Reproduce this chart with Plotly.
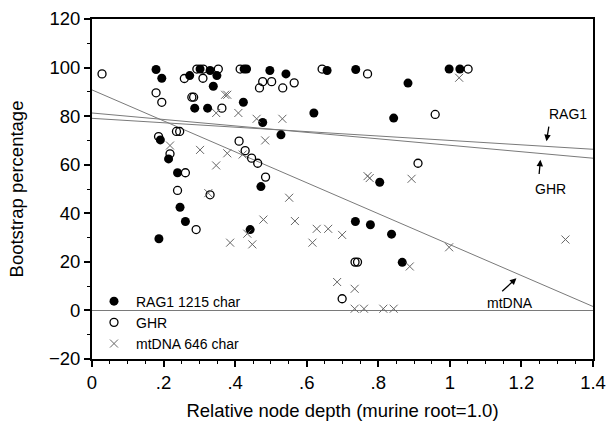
import plotly.graph_objects as go

# ---- data ----
rag1_x = [0.179, 0.195, 0.191, 0.214, 0.239, 0.273, 0.302, 0.330, 0.349, 0.339,
          0.287, 0.323, 0.423, 0.425, 0.432, 0.497, 0.542, 0.477, 0.528, 0.472,
          0.246, 0.261, 0.187, 0.442, 0.657, 0.737, 0.883, 0.998, 1.028, 0.620,
          0.843, 0.804, 0.736, 0.778, 0.837, 0.867]
rag1_y = [99.2, 95.6, 70.2, 62.4, 56.7, 96.7, 99.4, 98.8, 96.7, 92.3,
          83.3, 83.3, 85.7, 99.4, 99.4, 98.8, 97.4, 77.4, 72.3, 51.0,
          42.5, 36.6, 29.5, 33.3, 98.8, 99.2, 93.6, 99.4, 99.4, 81.3,
          79.2, 52.8, 36.6, 35.3, 31.4, 19.8]

ghr_x = [0.028, 0.179, 0.195, 0.186, 0.236, 0.245, 0.218, 0.261, 0.239, 0.258,
         0.293, 0.311, 0.353, 0.310, 0.279, 0.284, 0.363, 0.414, 0.477, 0.502,
         0.468, 0.533, 0.411, 0.428, 0.446, 0.463, 0.485, 0.330, 0.291, 0.565,
         0.643, 0.770, 1.051, 0.959, 0.911, 0.735, 0.742, 0.699]
ghr_y = [97.4, 89.6, 85.7, 71.6, 73.7, 73.7, 64.5, 56.7, 49.4, 95.5,
         99.4, 99.4, 99.4, 95.6, 87.8, 87.8, 83.3, 99.4, 94.2, 94.2,
         91.6, 91.6, 69.7, 65.8, 62.7, 60.6, 54.9, 47.6, 33.3, 93.7,
         99.4, 97.4, 99.4, 80.7, 60.6, 19.9, 19.9, 4.8]

mt_x = [0.218, 0.347, 0.372, 0.378, 0.409, 0.460, 0.532, 0.484, 0.302, 0.378,
        0.421, 0.347, 0.325, 0.551, 0.434, 0.386, 0.448, 0.479, 1.026, 0.770,
        0.776, 0.893, 0.567, 0.628, 0.660, 0.616, 0.699, 0.998, 0.888, 0.685,
        0.734, 0.734, 0.760, 0.814, 0.843, 1.323]
mt_y = [67.9, 81.3, 88.8, 88.8, 81.3, 78.9, 78.9, 70.0, 66.1, 64.7,
        64.2, 59.7, 48.3, 46.4, 31.6, 27.9, 27.2, 37.4, 95.8, 55.3,
        54.5, 54.2, 36.8, 33.6, 33.6, 27.9, 31.1, 26.0, 18.1, 11.7,
        8.9, 0.7, 0.7, 0.7, 0.7, 29.2]

# regression lines: intercept, slope
fit_names = ["RAG1", "GHR", "mtDNA"]
fit_intercepts = [79.1, 81.3, 90.8]
fit_slopes = [-9.1, -13.3, -63.7]
fit_x = [0.0, 1.4]

x_tickvals = [0, 0.2, 0.4, 0.6, 0.8, 1.0, 1.2, 1.4]
x_ticktext = ["0", ".2", ".4", ".6", ".8", "1", "1.2", "1.4"]
y_tickvals = [-20, 0, 20, 40, 60, 80, 100, 120]

FONT = "Liberation Sans, Arial, Helvetica, sans-serif"

fig = go.Figure()

for name, b0, b1 in zip(fit_names, fit_intercepts, fit_slopes):
    fig.add_trace(go.Scatter(
        x=fit_x, y=[b0 + b1 * xv for xv in fit_x], mode="lines",
        line=dict(color="#7a7a7a", width=1), showlegend=False, hoverinfo="skip"))

fig.add_trace(go.Scatter(
    x=rag1_x, y=rag1_y, mode="markers", name="RAG1 1215 char",
    marker=dict(symbol="circle", size=9, color="black")))
fig.add_trace(go.Scatter(
    x=ghr_x, y=ghr_y, mode="markers", name="GHR",
    marker=dict(symbol="circle-open", size=8, color="black", line=dict(width=1.3))))
fig.add_trace(go.Scatter(
    x=mt_x, y=mt_y, mode="markers", name="mtDNA 646 char",
    marker=dict(symbol="x-thin-open", size=8, color="#666666", line=dict(width=1, color="#666666"))))

# arrows (tip in data coords, tail offset in pixels)
arrows = [(1.270, 69.7, 2.6, -16), (1.253, 62.0, -1.4, 15.7), (1.186, 13.3, -15.7, 14.6)]
for ax_, ay_, dx, dy in arrows:
    fig.add_annotation(x=ax_, y=ay_, ax=dx, ay=dy, text="", showarrow=True,
                       arrowhead=2, arrowsize=1, arrowwidth=1.3, arrowcolor="black")

labels = [("RAG1", 1.330, 81.0), ("GHR", 1.280, 50.1), ("mtDNA", 1.169, 3.0)]
for t, lx, ly in labels:
    fig.add_annotation(x=lx, y=ly, text=t, showarrow=False,
                       font=dict(family=FONT, size=14, color="black"))

axis_common = dict(showline=True, linecolor="black", linewidth=2, mirror=True,
                   ticks="outside", ticklen=6, tickwidth=1.5, tickcolor="black",
                   showgrid=False, automargin=False,
                   tickfont=dict(family=FONT, size=18.5, color="black"))

fig.update_xaxes(range=[0, 1.4], tickvals=x_tickvals, ticktext=x_ticktext,
                 minor=dict(dtick=0.05, ticks="outside", ticklen=3, tickcolor="black", tickwidth=1),
                 zeroline=False,
                 title=dict(text="Relative node depth (murine root=1.0)",
                            font=dict(family=FONT, size=18.5, color="black"), standoff=12),
                 **axis_common)
fig.update_yaxes(range=[-20, 120], tickvals=y_tickvals,
                 minor=dict(dtick=10, ticks="outside", ticklen=3, tickcolor="black", tickwidth=1),
                 zeroline=True, zerolinecolor="#7a7a7a", zerolinewidth=1,
                 title=dict(text="Bootstrap percentage",
                            font=dict(family=FONT, size=18.5, color="black"), standoff=20),
                 **axis_common)

fig.update_layout(
    width=607, height=421,
    margin=dict(l=92, r=13.5, t=19, b=62),
    plot_bgcolor="white", paper_bgcolor="white",
    font=dict(family=FONT, color="black"),
    legend=dict(x=0.0, y=0.216, xanchor="left", yanchor="top",
                bgcolor="rgba(0,0,0,0)", font=dict(family=FONT, size=14),
                itemwidth=34),
)

fig.write_html("out.html", config={"displayModeBar": False},
               post_script="document.body.style.margin='0';document.body.style.overflow='hidden';")
